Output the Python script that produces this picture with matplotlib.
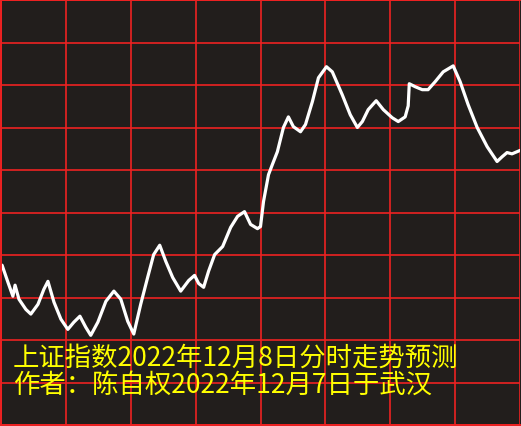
import matplotlib
matplotlib.use("Agg")
import matplotlib.pyplot as plt

plt.rcParams['font.family'] = ['Noto Sans CJK SC', 'DejaVu Sans']

# intraday forecast, minutes after open (0-240) vs index level
minutes = [0.5, 3.2, 5.5, 6.5, 8.3, 11.5, 13.8, 17.1, 19.8, 21.7,
           24.5, 27.7, 30.9, 33.7, 36.5, 39.2, 41.5, 44.8, 48.5, 52.2,
           55.4, 58.6, 61.4, 64.6, 67.8, 70.6, 73.4, 76.2, 79.4, 83.1,
           86.8, 89.5, 91.4, 93.7, 96.0, 98.8, 102.5, 106.2, 109.4, 112.6,
           115.4, 118.6, 120.0, 121.4, 123.7, 125.5, 127.8, 130.6, 132.9, 135.2,
           138.5, 140.8, 144.0, 146.8, 150.5, 153.2, 157.8, 161.5, 164.8, 167.1,
           169.8, 173.5, 176.8, 180.9, 183.7, 186.9, 188.3, 188.8, 191.5, 194.8,
           197.5, 200.8, 204.5, 209.1, 212.3, 216.0, 220.2, 224.8, 229.4, 231.7,
           234.0, 236.3, 240.0]
index = [3187.6, 3183.6, 3180.3, 3182.9, 3179.6, 3177.2, 3176.1, 3178.4, 3181.9, 3183.8,
         3178.9, 3174.9, 3172.5, 3174.2, 3175.6, 3173.0, 3171.1, 3174.2, 3179.1, 3181.5,
         3179.6, 3174.4, 3171.4, 3178.4, 3184.7, 3190.1, 3192.3, 3188.5, 3184.7, 3181.5,
         3184.0, 3185.2, 3183.3, 3182.4, 3186.2, 3190.1, 3192.0, 3196.5, 3199.1, 3200.2,
         3197.2, 3196.2, 3196.7, 3202.6, 3208.9, 3211.3, 3214.3, 3220.0, 3222.5, 3220.2,
         3219.0, 3220.7, 3226.1, 3231.7, 3234.3, 3233.1, 3227.7, 3223.0, 3220.0, 3221.4,
         3224.2, 3226.3, 3224.2, 3222.3, 3221.4, 3222.5, 3225.1, 3230.3, 3229.6, 3228.9,
         3228.9, 3230.8, 3233.1, 3234.5, 3230.8, 3225.4, 3220.0, 3215.5, 3212.0, 3213.1,
         3214.1, 3213.8, 3214.6]

x_grid = [0, 30, 60, 90, 120, 150, 180, 210, 240]
y_grid = [3150, 3160, 3170, 3180, 3190, 3200, 3210, 3220, 3230, 3240, 3250]

title = '上证指数2022年12月8日分时走势预测'
author = '作者：陈自权2022年12月7日于武汉'

bg = '#221e1c'
red = '#ee2222'

fig = plt.figure(figsize=(5.21, 4.27), dpi=100, facecolor=bg)
ax = fig.add_axes([1 / 521, 1 / 427, 519 / 521, 425 / 427])
ax.set_facecolor(bg)

ax.set_xlim(0, 240)
ax.set_ylim(3150, 3250)
ax.set_xticks(x_grid)
ax.set_yticks(y_grid)
ax.tick_params(length=0, labelbottom=False, labelleft=False)
ax.grid(True, color=red, linewidth=1.2)
for s in ax.spines.values():
    s.set_color(red)
    s.set_linewidth(1.4)
ax.spines['right'].set_visible(False)

ax.plot(minutes, index, color='white', linewidth=2.3,
        solid_joinstyle='round', solid_capstyle='round')

fig.text(13 / 521, 1 - 358 / 427, title, color='#ffff00', fontsize=19, va='center', ha='left')
fig.text(13 / 521, 1 - 385 / 427, author, color='#ffff00', fontsize=19, va='center', ha='left')

fig.savefig('out.png', dpi=100, facecolor=bg)
